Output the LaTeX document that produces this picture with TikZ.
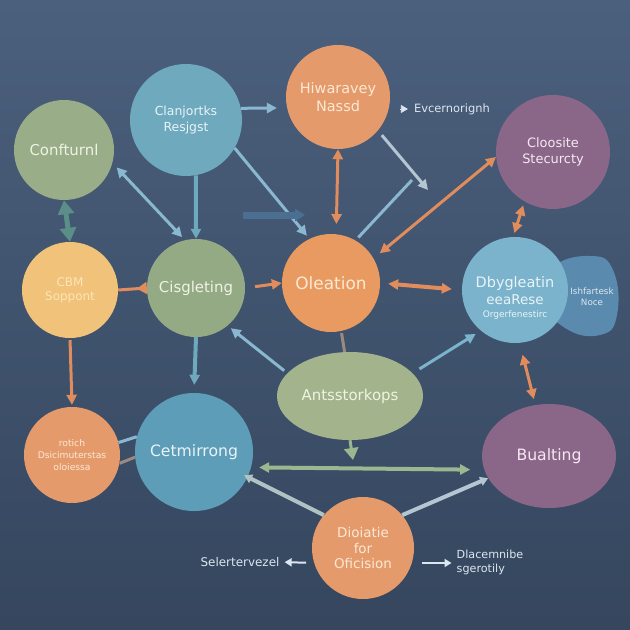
\documentclass[tikz,border=0pt]{standalone}
\usepackage{fontspec}
\setmainfont{DejaVu Sans}
\usetikzlibrary{arrows.meta,shapes.geometric}
\definecolor{bgtop}{HTML}{4B607D}
\definecolor{bgbot}{HTML}{35465E}
\definecolor{cgreen}{HTML}{98AD88}
\definecolor{cgreenB}{HTML}{93AA85}
\definecolor{cblue}{HTML}{6EA9BD}
\definecolor{cblueB}{HTML}{7BB3CC}
\definecolor{cblueC}{HTML}{5E9DB8}
\definecolor{corange}{HTML}{E59A6C}
\definecolor{corangeB}{HTML}{E99A60}
\definecolor{cpurple}{HTML}{8A6689}
\definecolor{cyellow}{HTML}{F1C27A}
\definecolor{csage}{HTML}{A3B48C}
\definecolor{cblob}{HTML}{5A8BAE}
\definecolor{tgreen}{HTML}{EEF3E2}
\definecolor{tblue}{HTML}{E8F4F8}
\definecolor{torange}{HTML}{FBE9D4}
\definecolor{tyellow}{HTML}{FBE6B6}
\definecolor{tpurple}{HTML}{F6E8F2}
\definecolor{aorange}{HTML}{E08C5C}
\definecolor{alblue}{HTML}{8AB8D0}
\definecolor{agrey}{HTML}{B4C6D2}
\definecolor{ateal}{HTML}{5A8E88}
\definecolor{agreen}{HTML}{9AB890}
\definecolor{adark}{HTML}{4B6F90}
\definecolor{amuted}{HTML}{9A8A80}
\definecolor{atext}{HTML}{DCE6F0}
\tikzset{
  bub/.style={circle,inner sep=0pt,align=center},
  ell/.style={ellipse,inner sep=0pt,align=center},
  arr/.style={line width=3bp,-{Triangle[length=10bp,width=10bp]}},
  darr/.style={line width=3bp,{Triangle[length=10bp,width=10bp]}-{Triangle[length=10bp,width=10bp]}},
  ln/.style={line width=3bp},
  lbl/.style={inner sep=1pt,align=left,text=atext}
}
\begin{document}
\begin{tikzpicture}[x=1bp,y=-1bp]
\useasboundingbox (0,0) rectangle (630,630);
\fill[top color=bgtop,bottom color=bgbot] (0,0) rectangle (630,630);

% blob behind
\fill[cblob] plot[smooth cycle,tension=0.8] coordinates {(552,268) (590,256) (613,270) (617,315) (600,335) (565,328) (545,300)};

% nodes
\node[bub,fill=cgreen,minimum size=100bp,text=tgreen,font=\fontsize{15}{18}\selectfont] (conf) at (64,150) {Confturnl};
\node[bub,fill=cblue,minimum size=112bp,text=tblue,font=\fontsize{12.5}{16}\selectfont] (clan) at (186,120) {Clanjortks\\Resjgst};
\node[bub,fill=corange,minimum size=104bp,text=torange,font=\fontsize{14.5}{18}\selectfont] (hiw) at (338,97) {Hiwaravey\\Nassd};
\node[lbl,font=\fontsize{11.5}{13}\selectfont] (evc) at (452,109) {Evcernorignh};
\node[bub,fill=cpurple,minimum size=114bp,text=tpurple,font=\fontsize{13}{16}\selectfont] (cloo) at (553,152) {Cloosite\\Stecurcty};
\node[bub,fill=cyellow,minimum size=96bp,text=tyellow,font=\fontsize{12}{14}\selectfont] (cbm) at (70,290) {CBM\\Soppont};
\node[bub,fill=cgreenB,minimum size=98bp,text=tgreen,font=\fontsize{15}{18}\selectfont] (cis) at (196,288) {Cisgleting};
\node[bub,fill=corangeB,minimum size=98bp,text=torange,font=\fontsize{17}{20}\selectfont] (olc) at (331,283) {Oleation};
\node[bub,fill=cblueB,minimum size=106bp] (dbyg) at (515,290) {};
\node[inner sep=0pt,text=tblue,align=center] (dbygt) at (515,298) {{\fontsize{14.5}{17}\selectfont Dbygleatin}\\[3bp]{\fontsize{13.5}{15}\selectfont eeaRese}\\[1bp]{\fontsize{9}{10}\selectfont Orgerfenestirc}};
\node[lbl,font=\fontsize{8.8}{11}\selectfont,align=center] (ish) at (592,297) {Ishfartesk\\Noce};
\node[ell,fill=csage,minimum width=146bp,minimum height=88bp,text=tgreen,font=\fontsize{15}{18}\selectfont] (ants) at (350,396) {Antsstorkops};
\node[bub,fill=corange,minimum size=96bp,text=torange,font=\fontsize{9.2}{12}\selectfont] (rot) at (72,455) {rotich\\Dsicimuterstas\\oloiessa};
\node[bub,fill=cblueC,minimum size=118bp,text=tblue,font=\fontsize{15.7}{18}\selectfont] (cet) at (194,452) {Cetmirrong};
\node[ell,fill=cpurple,minimum width=134bp,minimum height=104bp,text=tpurple,font=\fontsize{15.7}{18}\selectfont] (bual) at (549,456) {Bualting};
\node[bub,fill=corange,minimum size=102bp,text=torange,font=\fontsize{13.5}{15.5}\selectfont] (dio) at (363,548) {Dioiatie\\for\\Oficision};
\node[lbl,font=\fontsize{12}{14}\selectfont] (sel) at (240,562) {Selertervezel};
\node[lbl,font=\fontsize{11.2}{14}\selectfont] (dla) at (490,562) {Dlacemnibe\\sgerotily};

% coordinates for free ends
\coordinate (e8) at (428,190);
\coordinate (s9) at (412,180);
\coordinate (b1) at (243,215);
\coordinate (b2) at (305,215);
\coordinate (e21) at (353,460);
\coordinate (s26) at (398,109);

% connectors
\draw[arr,draw=alblue,fill=alblue,shorten >=10bp] (clan.12) -- (hiw.192);
\draw[line width=5bp,draw=ateal,{Triangle[length=14bp,width=16bp]}-{Triangle[length=14bp,width=16bp]}] (conf.south) -- (cbm.north);
\draw[darr,draw=alblue,shorten <=6bp,shorten >=4bp] (conf.-15) -- (cis.103);
\draw[arr,draw=cblue,line width=4bp] (clan.-80) -- (cis.north);
\draw[arr,draw=alblue,shorten >=4bp] (clan.-30) -- (olc.116);
\draw[line width=7bp,draw=adark,-{Triangle[length=10bp,width=12bp]}] (b1) -- (b2);
\draw[darr,draw=aorange,shorten >=10bp] (hiw.south) -- (olc.84);
\draw[arr,draw=agrey,shorten <=6bp] (hiw.-40) -- (e8);
\draw[ln,draw=alblue,shorten >=4bp] (s9) -- (olc.60);
\draw[darr,draw=aorange,shorten <=8bp] (olc.30) -- (cloo.185);
\draw[darr,draw=aorange,shorten <=4bp,shorten >=4bp] (cloo.-120) -- (dbyg.92);
\draw[darr,draw=aorange,line width=4bp,shorten <=8bp,shorten >=10bp] (olc.east) -- (dbyg.west);
\draw[line width=3bp,draw=aorange,-{Triangle[reversed,length=10bp,width=12bp]}] (cbm.east) -- (cis.west);
\draw[arr,draw=aorange,shorten <=10bp] (cis.east) -- (olc.west);
\draw[arr,draw=aorange,shorten <=2bp,shorten >=2bp] (cbm.south) -- (rot.north);
\draw[arr,draw=cblue,line width=4bp,shorten >=8bp] (cis.south) -- (cet.north);
\draw[arr,draw=alblue,shorten <=4bp,shorten >=4bp] (ants.160) -- (cis.-50);
\draw[ln,draw=amuted,shorten <=2bp] (olc.-78) -- (ants.97);
\draw[arr,draw=cblueB,shorten <=8bp,shorten >=6bp] (ants.20) -- (dbyg.-130);
\draw[darr,draw=aorange,shorten <=12bp,shorten >=6bp] (dbyg.-85) -- (bual.105);
\draw[line width=3bp,draw=agreen,-{Triangle[length=12bp,width=14bp]}] (ants.south) -- (e21);
\draw[darr,draw=agreen,line width=4bp,shorten <=8bp,shorten >=14bp] (cet.-15) -- (bual.192);
\draw[line width=4bp,draw=agrey!80!agreen,{Triangle[length=8bp,width=9bp]}-,shorten <=-4bp] (cet.-25) -- (dio.140);
\draw[line width=4bp,draw=agrey,{Triangle[length=8bp,width=9bp]}-] (bual.200) -- (dio.40);
\draw[ln,draw=alblue] (rot.15) -- (cet.165);
\draw[ln,draw=amuted] (rot.-10) -- (cet.185);
\draw[line width=0.8bp,draw=atext,-{Triangle[length=7bp,width=8bp]},shorten <=2bp,shorten >=5bp] (s26) -- (evc.west);
\draw[line width=2bp,draw=atext,-{Triangle[length=7bp,width=8bp]},shorten <=8bp,shorten >=4bp] (dio.197) -- (sel.east);
\draw[line width=2bp,draw=atext,-{Triangle[length=7bp,width=8bp]},shorten <=10bp,shorten >=4bp] (dio.-17) -- (dla.west |- dio.-17);
\end{tikzpicture}
\end{document}
